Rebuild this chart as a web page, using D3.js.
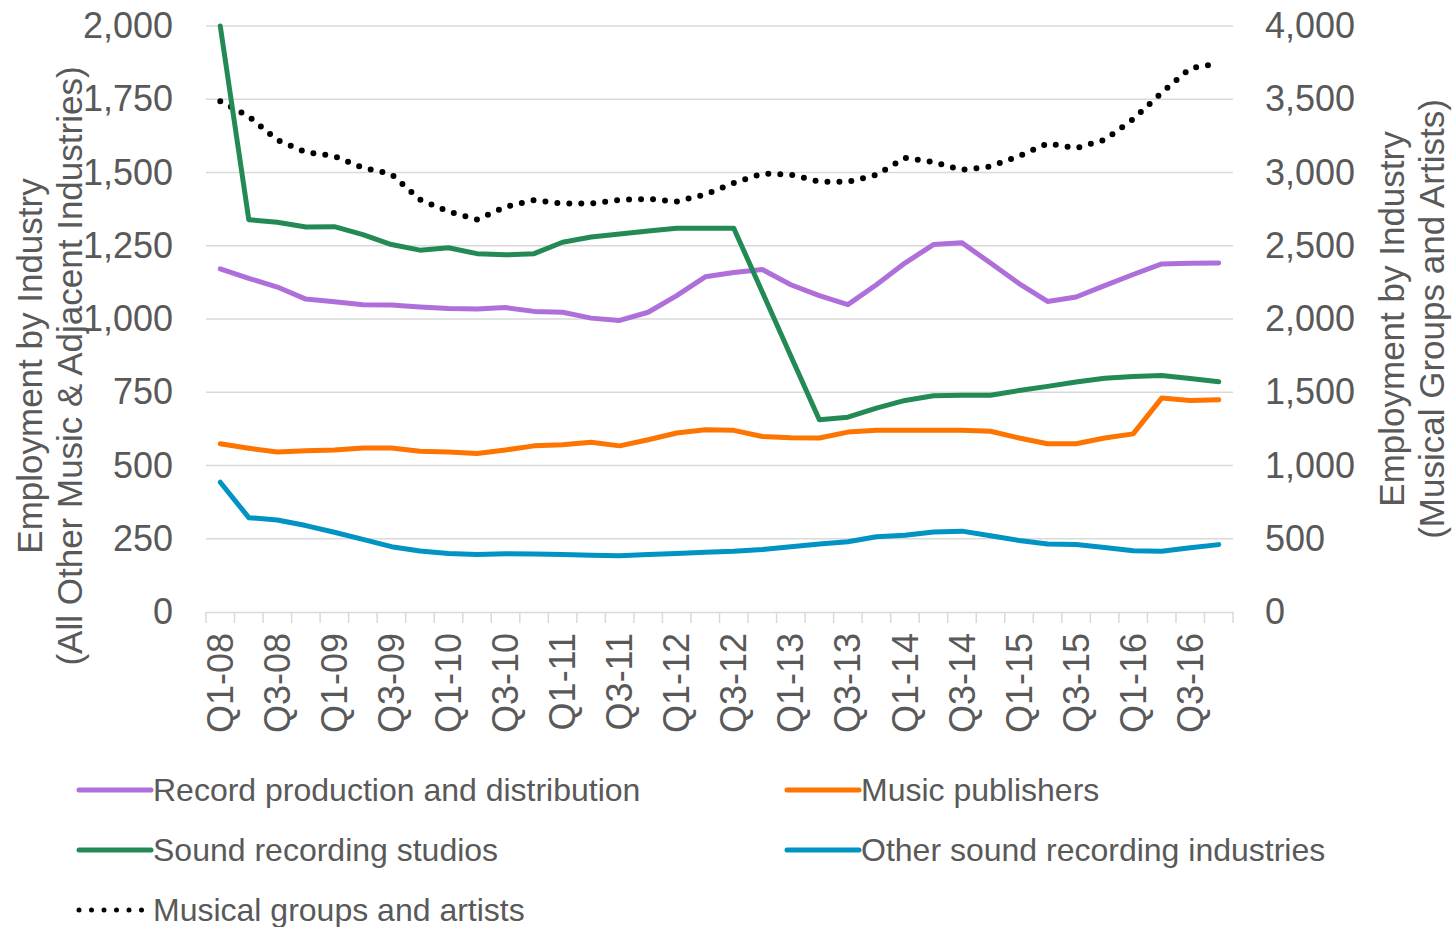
<!DOCTYPE html>
<html>
<head>
<meta charset="utf-8">
<script src="https://cdn.jsdelivr.net/npm/d3@7"></script>
<style>
  body { margin: 0; background: #fff; }
  text { font-family: "Liberation Sans", Arial, sans-serif; fill: #595959; }
</style>
</head>
<body>
<div id="chart-container"></div>
<script>
// Employment by industry, quarterly 2008-2016

const quarters = [
    "Q1-08", "Q2-08", "Q3-08", "Q4-08", "Q1-09", "Q2-09", "Q3-09", "Q4-09",
    "Q1-10", "Q2-10", "Q3-10", "Q4-10", "Q1-11", "Q2-11", "Q3-11", "Q4-11",
    "Q1-12", "Q2-12", "Q3-12", "Q4-12", "Q1-13", "Q2-13", "Q3-13", "Q4-13",
    "Q1-14", "Q2-14", "Q3-14", "Q4-14", "Q1-15", "Q2-15", "Q3-15", "Q4-15",
    "Q1-16", "Q2-16", "Q3-16", "Q4-16"
];

const recordProduction = [1171, 1139, 1109, 1068, 1059, 1049, 1048, 1041, 1036, 1034, 1039, 1026,
    1023, 1003, 995, 1023, 1080, 1144, 1159, 1169, 1117, 1080, 1049, 1117,
    1191, 1254, 1260, 1191, 1121, 1060, 1075, 1114, 1152, 1188, 1190, 1191];

const musicPublishers = [574, 559, 546, 550, 553, 560, 560, 549, 546, 541, 553, 567,
    571, 579, 567, 588, 611, 622, 620, 599, 595, 594, 614, 620,
    620, 620, 620, 617, 594, 574, 574, 594, 608, 730, 722, 724];

const soundStudios = [2000, 1339, 1330, 1314, 1315, 1288, 1254, 1235, 1243, 1223, 1219, 1223,
    1262, 1280, 1290, 1300, 1310, 1310, 1310, 1092, 874, 656, 665, 696,
    722, 738, 740, 740, 756, 770, 785, 798, 804, 807, 797, 786];

const otherSound = [443, 322, 314, 295, 272, 248, 223, 208, 200, 196, 199, 198,
    196, 194, 192, 196, 200, 204, 207, 213, 223, 232, 240, 257,
    262, 273, 276, 260, 244, 232, 230, 220, 209, 207, 219, 230];

// right axis
const musicalGroups = [3487, 3383, 3221, 3139, 3112, 3032, 2989, 2815, 2733, 2679, 2765, 2811,
    2788, 2788, 2813, 2820, 2802, 2850, 2929, 2993, 2986, 2938, 2936, 2984,
    3100, 3071, 3018, 3041, 3112, 3198, 3166, 3223, 3364, 3544, 3711, 3745];

const leftTicks = [0, 250, 500, 750, 1000, 1250, 1500, 1750, 2000];
const rightTicks = [0, 500, 1000, 1500, 2000, 2500, 3000, 3500, 4000];

const width = 1452;
const height = 927;
const margin = { top: 26, right: 219, bottom: 315, left: 206 };

const svg = d3.select("#chart-container")
    .append("svg")
    .attr("width", width)
    .attr("height", height);

const xScale = d3.scaleBand()
    .domain(quarters)
    .range([margin.left, width - margin.right])
    .padding(0);

const yLeft = d3.scaleLinear()
    .domain([0, 2000])
    .range([height - margin.bottom, margin.top]);

const yRight = d3.scaleLinear()
    .domain([0, 4000])
    .range([height - margin.bottom, margin.top]);

const cx = q => xScale(q) + xScale.bandwidth() / 2;

// gridlines
svg.append("g")
    .selectAll("line")
    .data(leftTicks.slice(1))
    .join("line")
    .attr("x1", margin.left)
    .attr("x2", width - margin.right)
    .attr("y1", d => yLeft(d))
    .attr("y2", d => yLeft(d))
    .attr("stroke", "#d9d9d9")
    .attr("stroke-width", 1.5);

// left axis
const yAxisL = svg.append("g")
    .attr("transform", `translate(${margin.left},0)`)
    .call(d3.axisLeft(yLeft).tickValues(leftTicks).tickFormat(d3.format(",")).tickSize(0).tickPadding(33));
yAxisL.select(".domain").remove();
yAxisL.selectAll("text").style("font-size", "36px").attr("fill", "#595959");

// right axis
const yAxisR = svg.append("g")
    .attr("transform", `translate(${width - margin.right},0)`)
    .call(d3.axisRight(yRight).tickValues(rightTicks).tickFormat(d3.format(",")).tickSize(0).tickPadding(32));
yAxisR.select(".domain").remove();
yAxisR.selectAll("text").style("font-size", "36px").attr("fill", "#595959");

// bottom axis
const xAxis = svg.append("g")
    .attr("transform", `translate(0,${height - margin.bottom})`)
    .call(d3.axisBottom(xScale)
        .tickValues(quarters.filter((q, i) => i % 2 === 0))
        .tickSize(0)
        .tickPadding(0));
xAxis.select(".domain")
    .attr("stroke", "#d9d9d9")
    .attr("stroke-width", 1.5);
xAxis.selectAll("text")
    .style("font-size", "36px")
    .attr("fill", "#595959")
    .attr("text-anchor", "end")
    .attr("dy", "0.35em")
    .attr("transform", "translate(0,21) rotate(-90)");

// category boundary ticks
xAxis.append("g")
    .selectAll("line")
    .data(quarters.map(q => xScale(q)).concat([xScale.range()[1]]))
    .join("line")
    .attr("x1", d => d)
    .attr("x2", d => d)
    .attr("y1", 0)
    .attr("y2", 11)
    .attr("stroke", "#d9d9d9")
    .attr("stroke-width", 1.5);

// axis titles
const leftTitle = svg.append("text")
    .attr("transform", `translate(42,366) rotate(-90)`)
    .attr("text-anchor", "middle")
    .style("font-size", "35px");
leftTitle.append("tspan").attr("x", 0).attr("dy", 0).text("Employment by Industry");
leftTitle.append("tspan").attr("x", 0).attr("dy", 40).text("(All Other Music & Adjacent Industries)");

const rightTitle = svg.append("text")
    .attr("transform", `translate(1404,319) rotate(-90)`)
    .attr("text-anchor", "middle")
    .style("font-size", "35px");
rightTitle.append("tspan").attr("x", 0).attr("dy", 0).text("Employment by Industry");
rightTitle.append("tspan").attr("x", 0).attr("dy", 40).text("(Musical Groups and Artists)");

// series
const series = [
    { name: "Record production and distribution", values: recordProduction, color: "#ae6fda", axis: yLeft, dotted: false },
    { name: "Music publishers", values: musicPublishers, color: "#fd7400", axis: yLeft, dotted: false },
    { name: "Sound recording studios", values: soundStudios, color: "#238a56", axis: yLeft, dotted: false },
    { name: "Other sound recording industries", values: otherSound, color: "#0093c4", axis: yLeft, dotted: false },
    { name: "Musical groups and artists", values: musicalGroups, color: "#000000", axis: yRight, dotted: true }
];

const drawOrder = [series[4], series[0], series[2], series[1], series[3]];

drawOrder.forEach(s => {
    const line = d3.line()
        .x((d, i) => cx(quarters[i]))
        .y(d => s.axis(d));
    const path = svg.append("path")
        .datum(s.values)
        .attr("fill", "none")
        .attr("stroke", s.color)
        .attr("stroke-linejoin", "round")
        .attr("stroke-linecap", "round")
        .attr("d", line);
    if (s.dotted) {
        path.attr("stroke-width", 6).attr("stroke-dasharray", "0 12");
    } else {
        path.attr("stroke-width", 5);
    }
});

// legend
const legendPos = [
    { x: 79, y: 790 }, { x: 787, y: 790 },
    { x: 79, y: 850 }, { x: 787, y: 850 },
    { x: 79, y: 910 }
];

const legend = svg.append("g");
series.forEach((s, i) => {
    const p = legendPos[i];
    const item = legend.append("g").attr("transform", `translate(${p.x},${p.y})`);
    const sym = item.append("line")
        .attr("x1", 0)
        .attr("x2", 72)
        .attr("y1", 0)
        .attr("y2", 0)
        .attr("stroke", s.color)
        .attr("stroke-linecap", "round");
    if (s.dotted) {
        sym.attr("stroke-width", 5).attr("stroke-dasharray", "0 12.5").attr("x2", 64);
    } else {
        sym.attr("stroke-width", 5);
    }
    item.append("text")
        .attr("x", 74)
        .attr("y", 0)
        .attr("dy", "0.35em")
        .style("font-size", "32px")
        .text(s.name);
});
</script>
</body>
</html>
